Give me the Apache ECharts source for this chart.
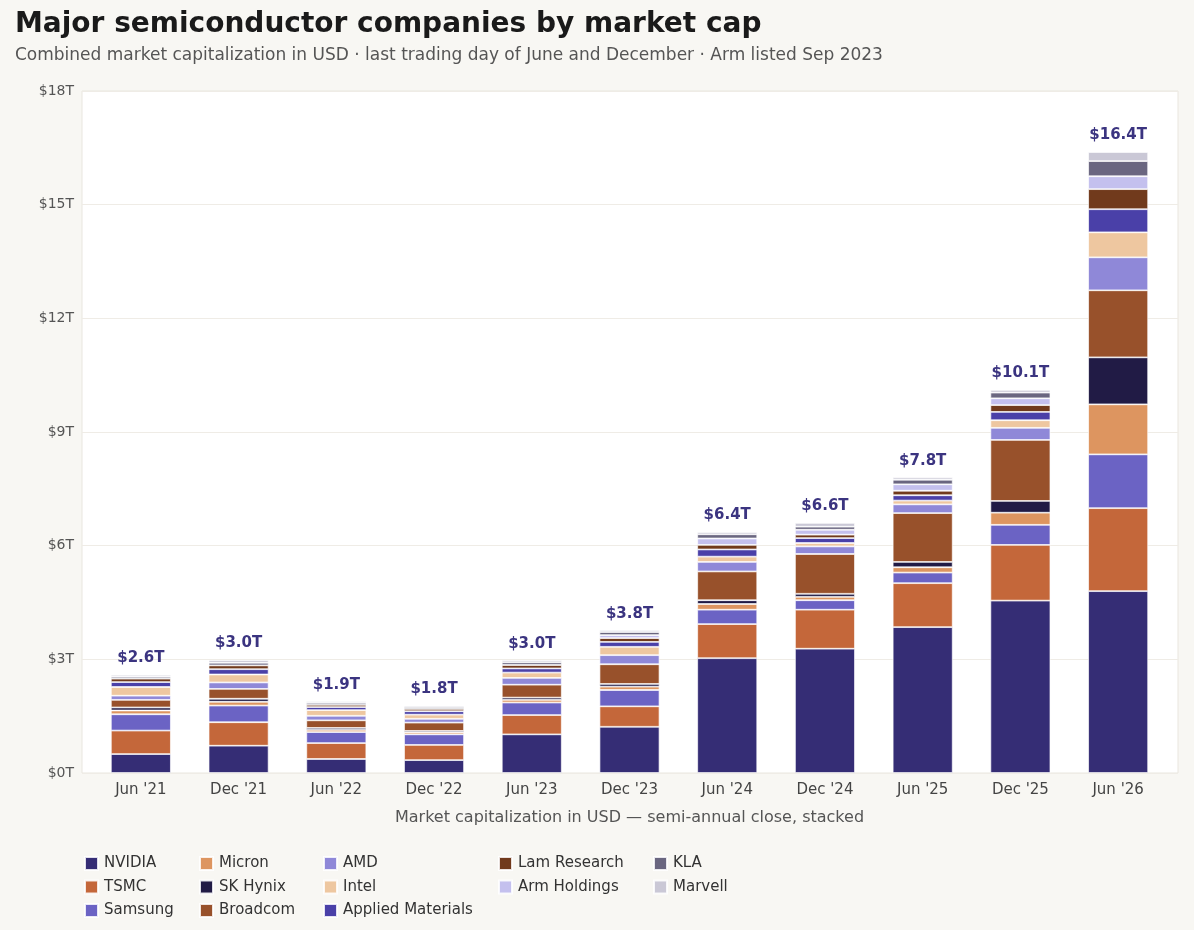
<!DOCTYPE html>
<html>
<head>
<meta charset="utf-8">
<script src="https://cdn.jsdelivr.net/npm/echarts@6/dist/echarts.min.js"></script>
<style>
  html, body { margin: 0; padding: 0; background: #f8f7f3; }
  #chart { width: 1194px; height: 930px; }
</style>
</head>
<body>
<div id="chart"></div>
<script>
// semi-annual closes, trillions of USD
const periods = ["Jun '21", "Dec '21", "Jun '22", "Dec '22", "Jun '23", "Dec '23", "Jun '24", "Dec '24", "Jun '25", "Dec '25", "Jun '26"];

const nvidia   = [0.50, 0.72, 0.37, 0.34, 1.02, 1.22, 3.03, 3.28, 3.85, 4.55, 4.80];
const tsmc     = [0.62, 0.62, 0.42, 0.40, 0.51, 0.54, 0.90, 1.03, 1.16, 1.47, 2.19];
const samsung  = [0.43, 0.44, 0.29, 0.28, 0.33, 0.43, 0.38, 0.25, 0.28, 0.53, 1.42];
const micron   = [0.10, 0.10, 0.06, 0.05, 0.07, 0.09, 0.15, 0.09, 0.14, 0.32, 1.32];
const skHynix  = [0.08, 0.08, 0.05, 0.04, 0.06, 0.07, 0.10, 0.08, 0.14, 0.31, 1.24];
const broadcom = [0.20, 0.26, 0.20, 0.22, 0.34, 0.52, 0.76, 1.05, 1.29, 1.61, 1.77];
const amd      = [0.11, 0.17, 0.12, 0.10, 0.18, 0.24, 0.25, 0.20, 0.23, 0.32, 0.87];
const intel    = [0.23, 0.21, 0.15, 0.11, 0.14, 0.22, 0.14, 0.09, 0.10, 0.20, 0.66];
const applied  = [0.13, 0.14, 0.08, 0.09, 0.11, 0.13, 0.19, 0.13, 0.14, 0.22, 0.61];
const lam      = [0.09, 0.10, 0.06, 0.06, 0.09, 0.10, 0.12, 0.09, 0.12, 0.18, 0.53];
const arm      = [null, null, null, null, null, 0.08, 0.17, 0.13, 0.17, 0.18, 0.34]; // listed Sep 2023
const kla      = [0.05, 0.07, 0.05, 0.05, 0.07, 0.08, 0.11, 0.08, 0.12, 0.15, 0.40];
const marvell  = [0.05, 0.07, 0.04, 0.04, 0.05, 0.05, 0.06, 0.10, 0.06, 0.07, 0.24];

const yTicks = [0, 3, 6, 9, 12, 15, 18];

const companies = [
  ['NVIDIA', nvidia, '#352d75'],
  ['TSMC', tsmc, '#c4673a'],
  ['Samsung', samsung, '#6b63c4'],
  ['Micron', micron, '#dd9560'],
  ['SK Hynix', skHynix, '#211b45'],
  ['Broadcom', broadcom, '#98512b'],
  ['AMD', amd, '#8f88d8'],
  ['Intel', intel, '#eec7a0'],
  ['Applied Materials', applied, '#4a40a8'],
  ['Lam Research', lam, '#713a1c'],
  ['Arm Holdings', arm, '#c4c0ee'],
  ['KLA', kla, '#6a6680'],
  ['Marvell', marvell, '#cac8d6']
];

const totals = periods.map((p, i) => companies.reduce((s, c) => s + (c[1][i] || 0), 0));

const FONT = 'DejaVu Sans';

const series = companies.map(([name, data, color], k) => {
  const s = {
    name: name,
    type: 'bar',
    stack: 'cap',
    barWidth: 60,
    xAxisIndex: 0,
    yAxisIndex: 0,
    data: data,
    itemStyle: { color: color, borderColor: 'rgba(255,255,255,0.85)', borderWidth: 0.8 },
    emphasis: { disabled: true }
  };
  if (k === companies.length - 1) {
    s.label = {
      show: true,
      position: 'top',
      distance: 9,
      fontFamily: FONT,
      fontSize: 15,
      fontWeight: 'bold',
      color: '#3b3480',
      formatter: (p) => '$' + totals[p.dataIndex].toFixed(1) + 'T'
    };
  }
  return s;
});

// legend laid out in columns
const columns = [
  { left: 84, names: ['NVIDIA', 'TSMC', 'Samsung'] },
  { left: 199, names: ['Micron', 'SK Hynix', 'Broadcom'] },
  { left: 323, names: ['AMD', 'Intel', 'Applied Materials'] },
  { left: 498, names: ['Lam Research', 'Arm Holdings'] },
  { left: 653, names: ['KLA', 'Marvell'] }
];
const legends = columns.map(c => ({
  orient: 'vertical',
  left: c.left,
  top: 856,
  height: 90,
  padding: 0,
  itemWidth: 13,
  itemHeight: 13,
  itemGap: 8.5,
  icon: 'rect',
  selectedMode: false,
  data: c.names,
  textStyle: { fontFamily: FONT, fontSize: 15, color: '#333', padding: [0, 0, 0, 1] }
}));

const chart = echarts.init(document.getElementById('chart'));
chart.setOption({
  backgroundColor: '#f8f7f3',
  animation: false,
  title: {
    text: 'Major semiconductor companies by market cap',
    subtext: 'Combined market capitalization in USD · last trading day of June and December · Arm listed Sep 2023',
    left: 10,
    top: 6,
    itemGap: 8,
    textStyle: { fontFamily: FONT, fontSize: 28, fontWeight: 'bold', color: '#1a1a1a' },
    subtextStyle: { fontFamily: FONT, fontSize: 17, color: '#555' }
  },
  legend: legends,
  grid: [
    // bars
    { left: 92, right: 27, top: 91, bottom: 157 },
    // plot frame with gridlines
    { left: 82, right: 16, top: 91, bottom: 157, show: true, backgroundColor: '#ffffff', borderColor: '#e9e6df', borderWidth: 1, z: 0 }
  ],
  xAxis: [
    {
      type: 'category',
      gridIndex: 0,
      data: periods,
      name: 'Market capitalization in USD — semi-annual close, stacked',
      nameLocation: 'middle',
      nameGap: 37,
      nameTextStyle: { fontFamily: FONT, fontSize: 16, color: '#555' },
      axisLine: { show: false },
      axisTick: { show: false },
      axisLabel: { fontFamily: FONT, fontSize: 15, color: '#444', margin: 10 }
    },
    {
      type: 'value',
      gridIndex: 1,
      show: false
    }
  ],
  yAxis: [
    {
      type: 'value',
      gridIndex: 0,
      min: yTicks[0],
      max: yTicks[yTicks.length - 1],
      interval: 3,
      axisLine: { show: false },
      axisTick: { show: false },
      axisLabel: { show: false },
      splitLine: { show: false }
    },
    {
      type: 'value',
      gridIndex: 1,
      min: yTicks[0],
      max: yTicks[yTicks.length - 1],
      interval: 3,
      z: 0,
      axisLine: { show: false },
      axisTick: { show: false },
      splitLine: { lineStyle: { color: '#efece6' } },
      axisLabel: { fontFamily: FONT, fontSize: 14, color: '#555', margin: 8, formatter: v => '$' + v + 'T' }
    }
  ],
  series: series
});
</script>
</body>
</html>
